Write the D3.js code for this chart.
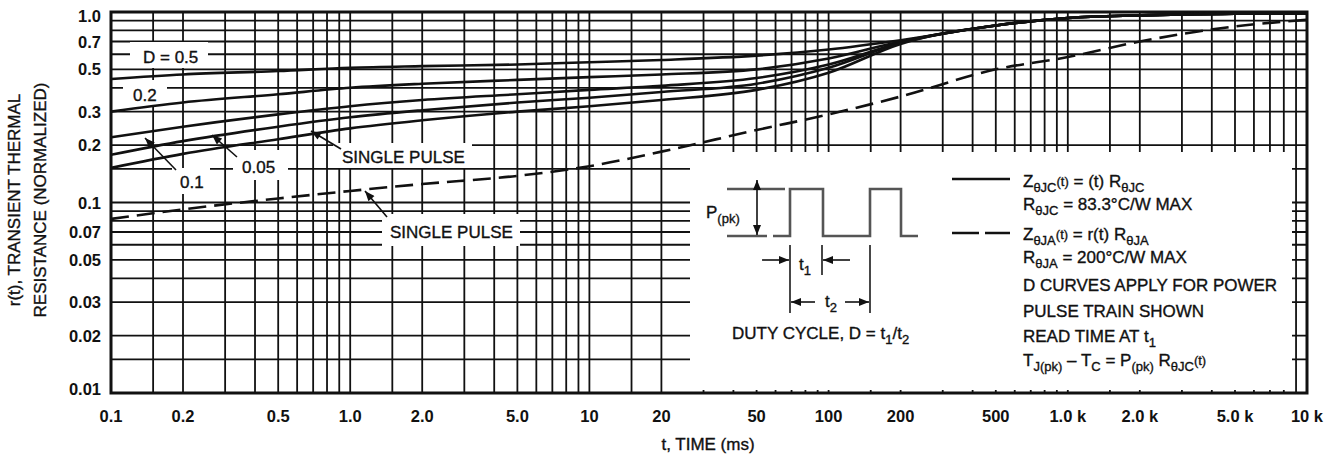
<!DOCTYPE html>
<html>
<head>
<meta charset="utf-8">
<script src="https://cdn.jsdelivr.net/npm/d3@7"></script>
<style>
  body { margin: 0; background: #fff; }
  svg { display: block; }
  text { font-family: "Liberation Sans", Arial, sans-serif; fill: #111; white-space: pre; }
  text.note { stroke: #111; stroke-width: 0.35px; }
</style>
</head>
<body>
<svg id="chart"></svg>
<script>
const timeMs = [0.1, 0.2, 0.5, 1, 2, 5, 10, 20, 50, 100, 200, 500, 1000, 2000, 5000, 10000];

// r(t) for the junction-to-case curves (solid)
const dutyHalf   = [0.445, 0.47, 0.49, 0.51, 0.52, 0.53, 0.545, 0.56, 0.59, 0.635, 0.71, 0.85, 0.93, 0.96, 0.98, 0.985];
const dutyFifth  = [0.30, 0.335, 0.37, 0.40, 0.42, 0.44, 0.455, 0.47, 0.50, 0.57, 0.70, 0.85, 0.93, 0.96, 0.98, 0.985];
const dutyTenth  = [0.22, 0.25, 0.29, 0.32, 0.345, 0.37, 0.39, 0.41, 0.45, 0.53, 0.69, 0.85, 0.93, 0.96, 0.98, 0.985];
const dutyTwenty = [0.178, 0.21, 0.25, 0.28, 0.305, 0.335, 0.355, 0.38, 0.42, 0.51, 0.69, 0.85, 0.93, 0.96, 0.98, 0.985];
const singleJC   = [0.152, 0.18, 0.215, 0.245, 0.27, 0.30, 0.32, 0.345, 0.39, 0.48, 0.68, 0.85, 0.93, 0.96, 0.98, 0.985];

// r(t) junction-to-ambient single pulse (dashed)
const singleJA   = [0.082, 0.092, 0.105, 0.115, 0.125, 0.138, 0.155, 0.185, 0.24, 0.29, 0.36, 0.50, 0.58, 0.70, 0.84, 0.91];

// Axis labels
const xTickValues = [0.1, 0.2, 0.5, 1, 2, 5, 10, 20, 50, 100, 200, 500, 1000, 2000, 5000, 10000];
const xTickLabels = ['0.1', '0.2', '0.5', '1.0', '2.0', '5.0', '10', '20', '50', '100', '200', '500', '1.0 k', '2.0 k', '5.0 k', '10 k'];
const yTickValues = [1, 0.7, 0.5, 0.3, 0.2, 0.1, 0.07, 0.05, 0.03, 0.02, 0.01];
const yTickLabels = ['1.0', '0.7', '0.5', '0.3', '0.2', '0.1', '0.07', '0.05', '0.03', '0.02', '0.01'];

const width = 1339;
const height = 459;
const inkColor = '#111';
const pulseColor = '#555';

const svg = d3.select('#chart')
  .attr('width', width)
  .attr('height', height)
  .style('background', '#fff');

// Scales (log-log)
const x = d3.scaleLog().domain([0.1, 10000]).range([111, 1307]);
const y = d3.scaleLog().domain([0.01, 1]).range([393, 12]);

// Arrowhead marker
svg.append('defs').append('marker')
  .attr('id', 'arrow')
  .attr('markerUnits', 'userSpaceOnUse')
  .attr('viewBox', '0 0 10 8')
  .attr('refX', 10)
  .attr('refY', 4)
  .attr('markerWidth', 11)
  .attr('markerHeight', 8)
  .attr('orient', 'auto')
  .append('path')
  .attr('d', 'M0,0 L10,4 L0,8 Z')
  .attr('fill', inkColor);

svg.select('defs').append('clipPath')
  .attr('id', 'plotClip')
  .append('rect')
  .attr('x', x.range()[0])
  .attr('y', y.range()[1])
  .attr('width', x.range()[1] - x.range()[0])
  .attr('height', y.range()[0] - y.range()[1]);

// Grid: 1, 1.5, 2 ... 9 per decade
const mult = [1, 1.5, 2, 3, 4, 5, 6, 7, 8, 9];
const gridX = [0.1, 1, 10, 100, 1000].flatMap(d => mult.map(m => d * m)).concat([10000]);
const gridY = [0.01, 0.1].flatMap(d => mult.map(m => d * m)).concat([1]);

const grid = svg.append('g').attr('stroke', inkColor).attr('stroke-width', 1.8);

grid.selectAll('.vline')
  .data(gridX)
  .join('line')
  .attr('class', 'vline')
  .attr('x1', d => x(d)).attr('x2', d => x(d))
  .attr('y1', y.range()[1]).attr('y2', y.range()[0]);

grid.selectAll('.hline')
  .data(gridY)
  .join('line')
  .attr('class', 'hline')
  .attr('x1', x.range()[0]).attr('x2', x.range()[1])
  .attr('y1', d => y(d)).attr('y2', d => y(d));

// Frame
svg.append('rect')
  .attr('x', x.range()[0])
  .attr('y', y.range()[1])
  .attr('width', x.range()[1] - x.range()[0])
  .attr('height', y.range()[0] - y.range()[1])
  .attr('fill', 'none')
  .attr('stroke', inkColor)
  .attr('stroke-width', 3);

// White panels that knock out the grid behind the notes
const panels = [
  [690, 152, 602, 238],   // legend / pulse diagram
  [130, 42, 78, 26],      // D = 0.5
  [123, 80, 44, 25],      // 0.2
  [172, 168, 38, 26],     // 0.1
  [233, 150, 55, 30],     // 0.05
  [333, 143, 139, 25],    // SINGLE PULSE (JC)
  [382, 214, 138, 32]     // SINGLE PULSE (JA)
];
svg.selectAll('.panel')
  .data(panels)
  .join('rect')
  .attr('class', 'panel')
  .attr('x', d => d[0]).attr('y', d => d[1])
  .attr('width', d => d[2]).attr('height', d => d[3])
  .attr('fill', '#fff');

// Curves
const curveData = vals => timeMs.map((t, i) => ({ t, v: vals[i] }));
const line = d3.line()
  .x(d => x(d.t))
  .y(d => y(d.v))
  .curve(d3.curveMonotoneX);

const curves = svg.append('g').attr('clip-path', 'url(#plotClip)');

curves.selectAll('.solid')
  .data([dutyHalf, dutyFifth, dutyTenth, dutyTwenty, singleJC])
  .join('path')
  .attr('class', 'solid')
  .attr('d', d => line(curveData(d)))
  .attr('fill', 'none')
  .attr('stroke', inkColor)
  .attr('stroke-width', 2.6);

curves.append('path')
  .attr('d', line(curveData(singleJA)))
  .attr('fill', 'none')
  .attr('stroke', inkColor)
  .attr('stroke-width', 2.6)
  .attr('stroke-dasharray', '18,8');

// Tick labels
svg.append('g')
  .selectAll('text')
  .data(xTickValues)
  .join('text')
  .attr('x', d => x(d))
  .attr('y', 422)
  .attr('text-anchor', 'middle')
  .attr('font-size', 16.5)
  .attr('font-weight', 'bold')
  .text((d, i) => xTickLabels[i]);

svg.append('g')
  .selectAll('text')
  .data(yTickValues)
  .join('text')
  .attr('x', 101)
  .attr('y', d => Math.min(Math.max(y(d), 16), 389) + 6)
  .attr('text-anchor', 'end')
  .attr('font-size', 16.5)
  .attr('font-weight', 'bold')
  .text((d, i) => yTickLabels[i]);

// Axis titles
svg.append('text')
  .attr('class', 'note')
  .attr('x', 708).attr('y', 450)
  .attr('text-anchor', 'middle')
  .attr('font-size', 17)
  .text('t, TIME (ms)');

svg.append('text')
  .attr('class', 'note')
  .attr('transform', 'translate(20,200) rotate(-90)')
  .attr('text-anchor', 'middle')
  .attr('font-size', 17)
  .text('r(t), TRANSIENT THERMAL');

svg.append('text')
  .attr('class', 'note')
  .attr('transform', 'translate(46,200) rotate(-90)')
  .attr('text-anchor', 'middle')
  .attr('font-size', 17)
  .text('RESISTANCE (NORMALIZED)');

// Text with subscripts: parts = [[text, kind]], kind: undefined | 'sub' | 'sm'
function richText(parent, px, py, parts, size = 17) {
  const t = parent.append('text')
    .attr('class', 'note')
    .attr('x', px).attr('y', py)
    .attr('font-size', size);
  let shift = 0;
  parts.forEach(([s, kind]) => {
    const target = kind === 'sub' ? 5 : kind === 'sm' ? -1 : 0;
    const ts = t.append('tspan').attr('dy', target - shift).text(s);
    if (kind) ts.attr('font-size', size - 4);
    shift = target;
  });
  return t;
}

// Curve labels
richText(svg, 143, 63, [['D = 0.5']]);
richText(svg, 133, 101, [['0.2']]);
richText(svg, 180, 188, [['0.1']]);
richText(svg, 242, 173, [['0.05']]);
richText(svg, 342, 163, [['SINGLE PULSE']]);
richText(svg, 390, 238, [['SINGLE PULSE']]);

const pointers = [
  [176, 170, 145, 138],
  [237, 157, 212, 135],
  [341, 149, 311, 131],
  [387, 217, 365, 191]
];
svg.selectAll('.pointer')
  .data(pointers)
  .join('line')
  .attr('class', 'pointer')
  .attr('x1', d => d[0]).attr('y1', d => d[1])
  .attr('x2', d => d[2]).attr('y2', d => d[3])
  .attr('stroke', inkColor)
  .attr('stroke-width', 1.6)
  .attr('marker-end', 'url(#arrow)');

// Pulse train diagram
const diag = svg.append('g');
diag.append('path')
  .attr('d', 'M727,189 H785 M727,236 H767 M773,236 H790 V189 H823 V236 H870 V189 H901 V236 H918')
  .attr('fill', 'none')
  .attr('stroke', pulseColor)
  .attr('stroke-width', 2.6);

diag.append('path')
  .attr('d', 'M790,245 V313 M822,245 V275 M870,245 V313')
  .attr('fill', 'none')
  .attr('stroke', '#333')
  .attr('stroke-width', 1.8);

const diagArrows = [
  [757, 210, 757, 180],
  [757, 210, 757, 235],
  [762, 260, 789, 260],
  [850, 260, 823, 260],
  [815, 302, 791, 302],
  [845, 302, 869, 302]
];
diag.selectAll('.darrow')
  .data(diagArrows)
  .join('line')
  .attr('class', 'darrow')
  .attr('x1', d => d[0]).attr('y1', d => d[1])
  .attr('x2', d => d[2]).attr('y2', d => d[3])
  .attr('stroke', inkColor)
  .attr('stroke-width', 1.6)
  .attr('marker-end', 'url(#arrow)');

richText(diag, 706, 218, [['P'], ['(pk)', 'sub']]);
richText(diag, 799, 270, [['t'], ['1', 'sub']]);
richText(diag, 825, 307, [['t'], ['2', 'sub']]);
richText(diag, 732, 339, [['DUTY CYCLE, D = t'], ['1', 'sub'], ['/t'], ['2', 'sub']]);

// Legend
const legend = svg.append('g');
legend.append('line')
  .attr('x1', 952).attr('x2', 1010).attr('y1', 179).attr('y2', 179)
  .attr('stroke', inkColor).attr('stroke-width', 2.6);
legend.append('line')
  .attr('x1', 952).attr('x2', 1010).attr('y1', 233).attr('y2', 233)
  .attr('stroke', inkColor).attr('stroke-width', 2.6)
  .attr('stroke-dasharray', '27,6');

const lx = 1023;
richText(legend, lx, 187, [['Z'], ['\u03B8JC', 'sub'], ['(t)', 'sm'], [' = (t) R'], ['\u03B8JC', 'sub']]);
richText(legend, lx, 210, [['R'], ['\u03B8JC', 'sub'], [' = 83.3\u00B0C/W MAX']]);
richText(legend, lx, 240, [['Z'], ['\u03B8JA', 'sub'], ['(t)', 'sm'], [' = r(t) R'], ['\u03B8JA', 'sub']]);
richText(legend, lx, 263, [['R'], ['\u03B8JA', 'sub'], [' = 200\u00B0C/W MAX']]);
richText(legend, lx, 291, [['D CURVES APPLY FOR POWER']]);
richText(legend, lx, 317, [['PULSE TRAIN SHOWN']]);
richText(legend, lx, 342, [['READ TIME AT t'], ['1', 'sub']]);
richText(legend, lx, 366, [['T'], ['J(pk)', 'sub'], [' \u2013 T'], ['C', 'sub'], [' = P'], ['(pk)', 'sub'], [' R'], ['\u03B8JC', 'sub'], ['(t)', 'sm']]);
</script>
</body>
</html>
